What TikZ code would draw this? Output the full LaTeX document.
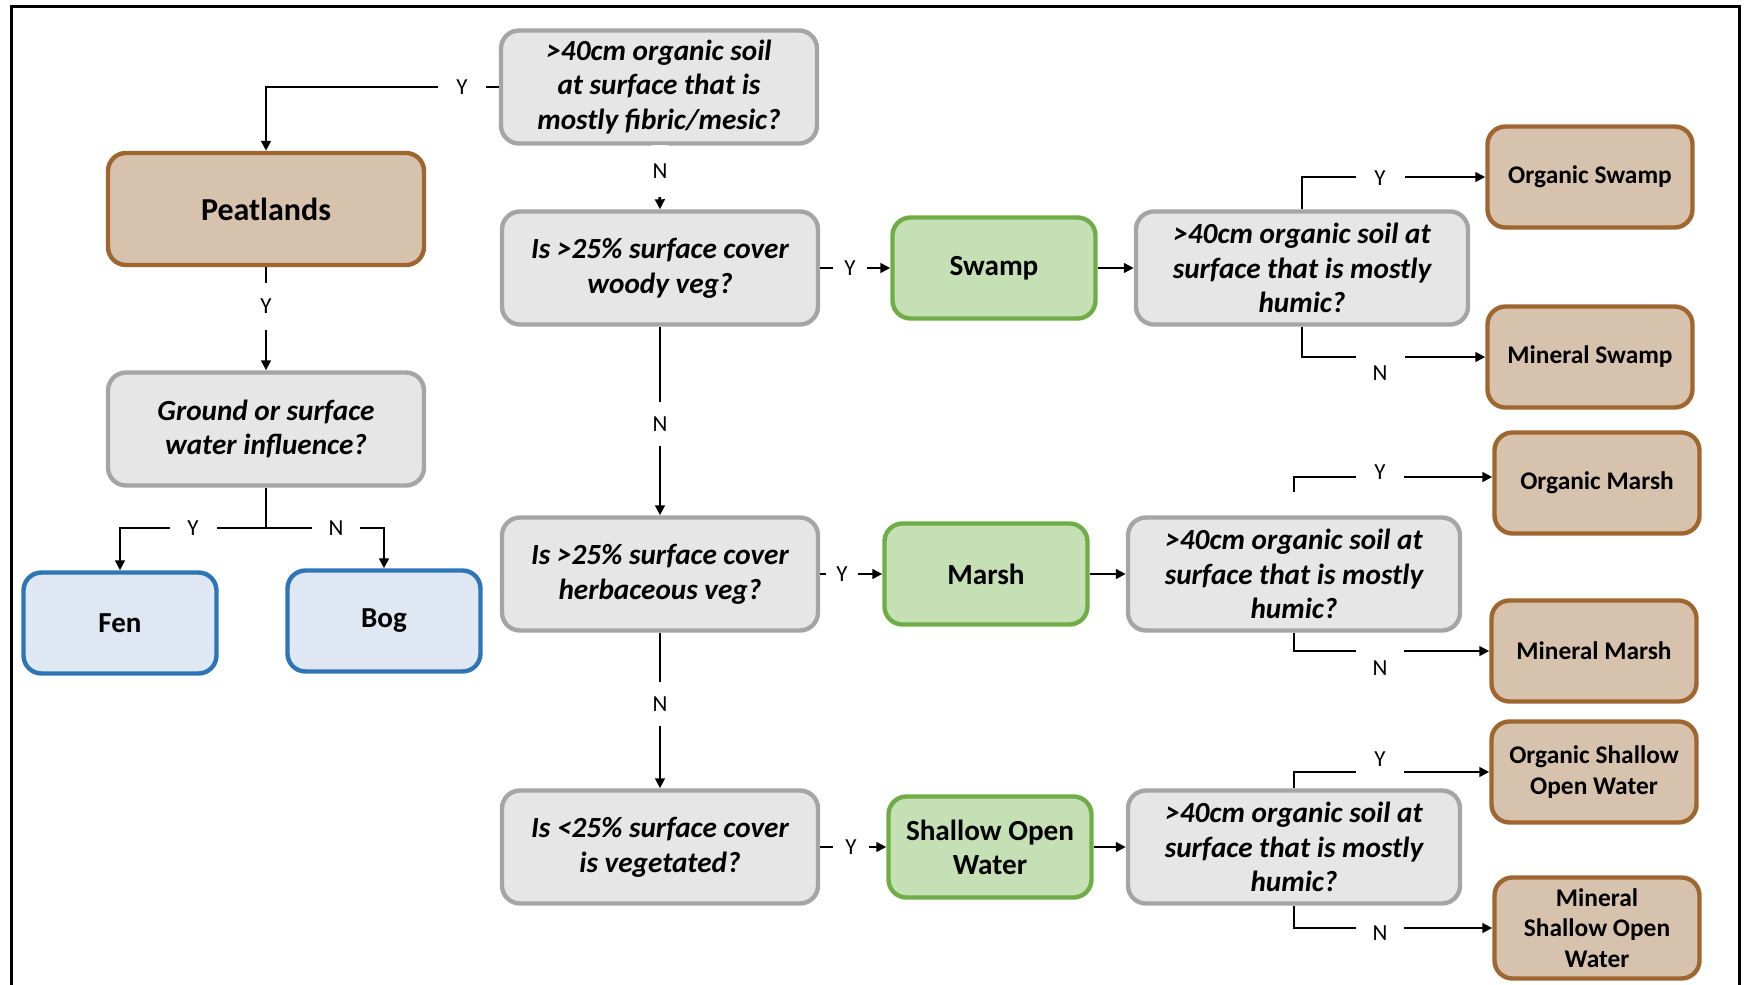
\documentclass[tikz,border=0pt]{standalone}
\usepackage{fontspec}
\setmainfont{Carlito}
\usetikzlibrary{arrows.meta}
\definecolor{qfill}{HTML}{E6E6E6}
\definecolor{qline}{HTML}{A5A5A5}
\definecolor{bfill}{HTML}{D7C3AD}
\definecolor{bline}{HTML}{A0662F}
\definecolor{cfill}{HTML}{DFE7F2}
\definecolor{cline}{HTML}{2E75B6}
\definecolor{gfill}{HTML}{C5E0B4}
\definecolor{gline}{HTML}{70AD47}

\begin{document}
\begin{tikzpicture}[x=0.5pt, y=-0.5pt,
  box/.style={rectangle, rounded corners=9pt, line width=2.2pt, align=center, inner sep=2pt},
  question/.style={box, draw=qline, fill=qfill,
    font=\bfseries\itshape\fontsize{14.6}{17.4}\selectfont,
    minimum width=158pt, minimum height=56.5pt},
  humic/.style={question, minimum width=166pt},
  peat/.style={box, draw=bline, fill=bfill, font=\bfseries\fontsize{16}{19}\selectfont,
    minimum width=158pt, minimum height=56pt},
  peatclass/.style={box, draw=cline, fill=cfill, font=\bfseries\fontsize{14.5}{17}\selectfont,
    minimum width=96.5pt, minimum height=50.5pt},
  wetland/.style={box, draw=gline, fill=gfill, font=\bfseries\fontsize{14.6}{17}\selectfont,
    minimum width=101.5pt, minimum height=50.5pt},
  soilclass/.style={box, draw=bline, fill=bfill, font=\bfseries\fontsize{12.7}{15.4}\selectfont,
    minimum width=102.5pt, minimum height=50.5pt},
  link/.style={line width=1.4pt, -{Triangle[length=5pt,width=4.8pt]}},
  yn/.style={fill=white, inner sep=0pt, font=\fontsize{11.5}{12}\selectfont},
]
\useasboundingbox (0,0) rectangle (1747,985);

% frame, open at the bottom
\draw[line width=1.5pt] (11,985) -- (11,6.5) -- (1739,6.5) -- (1739,985);

% peatland branch
\node[question] (q1) at (659,87) {>40cm organic soil\\at surface that is\\mostly fibric/mesic?};
\node[peat] (peat) at (266,209) {Peatlands};
\node[question] (gw) at (266,429) {Ground or surface\\water influence?};
\node[peatclass] (fen) at (120,623) {Fen};
\node[peatclass] (bog) at (384,621) {Bog};

% vegetation questions
\node[question] (q2) at (660,268) {Is >25\% surface cover\\woody veg?};
\node[question] (q3) at (660,574) {Is >25\% surface cover\\herbaceous veg?};
\node[question] (q4) at (660,847) {Is <25\% surface cover\\is vegetated?};

% mineral wetland classes
\node[wetland] (swamp) at (994,268) {Swamp};
\node[wetland] (marsh) at (986,574) {Marsh};
\node[wetland] (sow) at (990,847) {Shallow Open\\Water};

% humic questions
\node[humic] (h1) at (1302,268) {>40cm organic soil at\\surface that is mostly\\humic?};
\node[humic] (h2) at (1294,574) {>40cm organic soil at\\surface that is mostly\\humic?};
\node[humic] (h3) at (1294,847) {>40cm organic soil at\\surface that is mostly\\humic?};

% final classes
\node[soilclass] (os) at (1590,177) {Organic Swamp};
\node[soilclass] (ms) at (1590,357) {Mineral Swamp};
\node[soilclass] (om) at (1597,483) {Organic Marsh};
\node[soilclass] (mm) at (1594,651) {Mineral Marsh};
\node[soilclass] (osow) at (1594,772) {Organic Shallow\\Open Water};
\node[soilclass] (msow) at (1597,928) {Mineral\\Shallow Open\\Water};

% connectors
\coordinate (gj) at (266,528);
\coordinate (h2y) at (1294,492);
\draw[link] (q1.west) -| (peat.north);
\draw[link] (q1.south) -- (q2.north);
\draw[link] (peat.south) -- (gw.north);
\draw[line width=1.4pt] (gw.south) -- (gj);
\draw[link] (gj) -| (fen.north);
\draw[link] (gj) -| (bog.north);
\draw[link] (q2.south) -- (q3.north);
\draw[link] (q3.south) -- (q4.north);
\draw[link] (q2.east) -- (swamp.west);
\draw[link] (q3.east) -- (marsh.west);
\draw[link] (q4.east) -- (sow.west);
\draw[link] (swamp.east) -- (h1.west);
\draw[link] (marsh.east) -- (h2.west);
\draw[link] (sow.east) -- (h3.west);
\draw[link] (h1.north) |- (os.west);
\draw[link] (h1.south) |- (ms.west);
\draw[link] (h2y) |- ([yshift=3pt]om.west);
\draw[link] (h2.south) |- (mm.west);
\draw[link] (h3.north) |- (osow.west);
\draw[link] (h3.south) |- (msow.west);

% Y / N labels breaking the lines
\node[yn, minimum width=24pt, minimum height=12pt] at (462,87) {Y};
\node[yn, minimum width=8pt, minimum height=26pt] at (660,171) {N};
\node[yn, minimum width=8pt, minimum height=23.5pt] at (266,306) {Y};
\node[yn, minimum width=23.5pt, minimum height=12pt] at (193,528) {Y};
\node[yn, minimum width=24pt, minimum height=12pt] at (336,528) {N};
\node[yn, minimum width=8pt, minimum height=22pt] at (660,424) {N};
\node[yn, minimum width=8pt, minimum height=22pt] at (660,704) {N};
\node[yn, minimum width=17pt, minimum height=12pt] at (850,268) {Y};
\node[yn, minimum width=16pt, minimum height=12pt] at (842,574) {Y};
\node[yn, minimum width=18pt, minimum height=12pt] at (851,847) {Y};
\node[yn, minimum width=24.5pt, minimum height=12pt] at (1380,178) {Y};
\node[yn, minimum width=24.5pt, minimum height=20pt] at (1380,373) {N};
\node[yn, minimum width=24pt, minimum height=16pt] at (1380,472) {Y};
\node[yn, minimum width=24pt, minimum height=21pt] at (1380,668) {N};
\node[yn, minimum width=24pt, minimum height=17pt] at (1380,759) {Y};
\node[yn, minimum width=24pt, minimum height=12pt] at (1380,933) {N};
\end{tikzpicture}
\end{document}
